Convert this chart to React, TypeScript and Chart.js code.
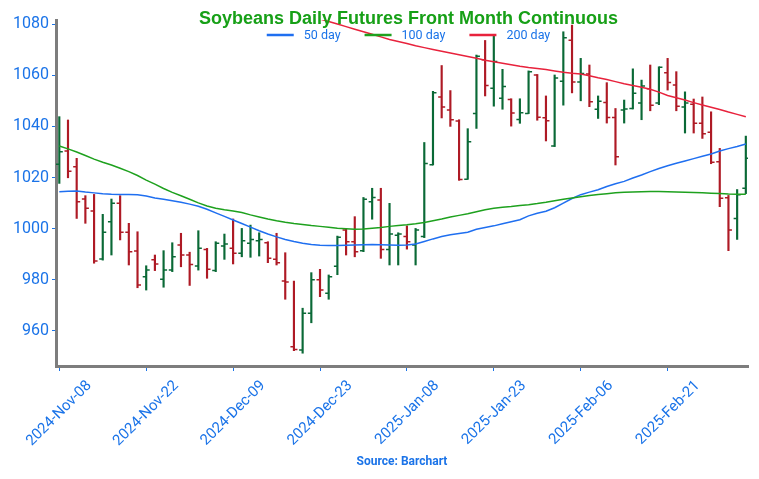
import React, { useEffect, useRef } from "react";
import { Chart, registerables } from "chart.js";

Chart.register(...registerables);

const TITLE = "Soybeans Daily Futures Front Month Continuous";
const SOURCE = "Source: Barchart";

const DATES = [
  "2024-Nov-08", "2024-Nov-11", "2024-Nov-12", "2024-Nov-13", "2024-Nov-14", "2024-Nov-15", "2024-Nov-18", "2024-Nov-19", "2024-Nov-20", "2024-Nov-21",
  "2024-Nov-22", "2024-Nov-25", "2024-Nov-26", "2024-Nov-27", "2024-Nov-29", "2024-Dec-02", "2024-Dec-03", "2024-Dec-04", "2024-Dec-05", "2024-Dec-06",
  "2024-Dec-09", "2024-Dec-10", "2024-Dec-11", "2024-Dec-12", "2024-Dec-13", "2024-Dec-16", "2024-Dec-17", "2024-Dec-18", "2024-Dec-19", "2024-Dec-20",
  "2024-Dec-23", "2024-Dec-24", "2024-Dec-26", "2024-Dec-27", "2024-Dec-30", "2024-Dec-31", "2025-Jan-02", "2025-Jan-03", "2025-Jan-06", "2025-Jan-07",
  "2025-Jan-08", "2025-Jan-09", "2025-Jan-10", "2025-Jan-13", "2025-Jan-14", "2025-Jan-15", "2025-Jan-16", "2025-Jan-17", "2025-Jan-21", "2025-Jan-22",
  "2025-Jan-23", "2025-Jan-24", "2025-Jan-27", "2025-Jan-28", "2025-Jan-29", "2025-Jan-30", "2025-Jan-31", "2025-Feb-03", "2025-Feb-04", "2025-Feb-05",
  "2025-Feb-06", "2025-Feb-07", "2025-Feb-10", "2025-Feb-11", "2025-Feb-12", "2025-Feb-13", "2025-Feb-14", "2025-Feb-18", "2025-Feb-19", "2025-Feb-20",
  "2025-Feb-21", "2025-Feb-24", "2025-Feb-25", "2025-Feb-26", "2025-Feb-27", "2025-Feb-28", "2025-Mar-03", "2025-Mar-04", "2025-Mar-05", "2025-Mar-06",
];

const OPEN = [
  1025.2, 1030.4, 1024.2, 1011.6, 1006.9, 988.1, 1002.7, 1009.9, 998.6, 991.3,
  981.2, 987.8, 980.2, 983.8, 993.6, 989.7, 985.4, 991.9, 983.6, 993.2,
  992.3, 990.4, 994.3, 995.3, 994.5, 988.0, 979.5, 953.8, 952.6, 966.9,
  980.0, 974.7, 985.3, 999.5, 994.9, 991.4, 1010.5, 1011.2, 991.9, 997.4,
  996.9, 993.6, 996.9, 1025.0, 1051.5, 1046.4, 1042.1, 1019.3, 1045.0, 1066.1,
  1054.9, 1051.0, 1050.5, 1042.7, 1045.0, 1060.1, 1043.4, 1032.3, 1057.6, 1073.7,
  1057.4, 1060.5, 1046.7, 1049.3, 1043.5, 1046.4, 1047.0, 1049.1, 1054.7, 1049.1,
  1061.0, 1056.2, 1047.6, 1048.7, 1041.2, 1037.7, 1026.2, 1012.1, 1004.0, 1015.8,
];
const HIGH = [
  1043.8, 1042.5, 1027.5, 1012.9, 1013.4, 1005.6, 1011.6, 1012.9, 1002.1, 998.8,
  985.5, 989.7, 991.4, 994.5, 998.2, 990.8, 999.2, 992.3, 994.9, 997.9,
  1003.8, 1000.1, 1001.4, 998.4, 994.9, 998.2, 990.6, 979.5, 968.9, 982.8,
  984.1, 981.9, 997.1, 1000.1, 1004.7, 1012.2, 1015.8, 1015.8, 1009.9, 998.4,
  1001.1, 1000.1, 1033.7, 1053.7, 1063.8, 1054.0, 1042.6, 1039.1, 1067.9, 1073.6,
  1075.7, 1062.3, 1050.8, 1050.8, 1061.7, 1060.3, 1051.9, 1060.1, 1077.0, 1079.6,
  1066.6, 1064.0, 1051.9, 1057.1, 1047.0, 1050.3, 1062.5, 1058.1, 1064.0, 1063.3,
  1066.6, 1061.4, 1053.5, 1050.7, 1051.5, 1045.7, 1031.4, 1013.0, 1015.3, 1036.2,
];
const LOW = [
  1017.7, 1019.9, 1004.0, 1002.1, 986.5, 987.7, 989.7, 995.6, 985.8, 976.9,
  976.0, 983.6, 977.1, 983.2, 985.1, 977.8, 983.8, 980.6, 983.2, 988.0,
  986.2, 989.0, 988.8, 989.3, 986.7, 985.8, 972.4, 952.3, 951.3, 963.2,
  973.4, 972.4, 982.0, 989.7, 989.0, 991.0, 1003.7, 988.4, 985.8, 985.8,
  992.0, 985.8, 996.5, 1024.9, 1043.3, 1040.0, 1018.9, 1019.3, 1039.2, 1051.9,
  1047.9, 1046.7, 1040.1, 1041.2, 1045.0, 1042.4, 1034.3, 1032.1, 1048.3, 1053.1,
  1050.0, 1047.7, 1043.1, 1041.3, 1024.9, 1041.3, 1046.8, 1042.6, 1046.1, 1048.5,
  1054.2, 1046.1, 1037.4, 1037.4, 1035.3, 1025.4, 1008.6, 991.4, 995.8, 1013.7,
];
const CLOSE = [
  1030.1, 1022.5, 1010.5, 1008.0, 987.4, 998.6, 1009.9, 998.6, 991.0, 978.0,
  983.8, 986.2, 983.8, 989.0, 989.7, 986.0, 992.3, 984.1, 994.3, 994.0,
  990.4, 995.3, 995.8, 995.8, 988.4, 986.7, 979.1, 952.8, 966.9, 980.0,
  976.0, 981.2, 996.6, 994.9, 991.0, 1011.5, 1012.2, 991.9, 997.9, 997.9,
  994.9, 999.5, 1025.5, 1053.2, 1047.6, 1042.6, 1019.2, 1034.0, 1067.4, 1056.0,
  1065.4, 1055.6, 1045.2, 1045.3, 1061.4, 1043.6, 1042.2, 1058.9, 1074.7, 1057.4,
  1060.7, 1049.6, 1049.8, 1043.5, 1028.1, 1046.8, 1053.0, 1055.8, 1048.3, 1063.1,
  1057.2, 1047.9, 1049.1, 1041.2, 1037.1, 1026.0, 1011.9, 999.5, 1013.3, 1027.5,
];

const MA50 = [
  1014.4, 1014.6, 1014.7, 1014.3, 1014.0, 1013.7, 1013.5, 1013.4, 1013.4, 1013.3,
  1012.8, 1012.0, 1011.5, 1010.9, 1010.3, 1009.6, 1008.8, 1007.6, 1006.2, 1004.8,
  1003.4, 1002.0, 1000.6, 999.2, 997.9, 996.8, 995.8, 995.0, 994.3, 993.8,
  993.5, 993.4, 993.4, 993.5, 993.6, 993.7, 993.8, 993.7, 993.6, 993.5,
  993.6, 994.0, 995.0, 996.0, 996.9, 997.6, 998.1, 998.6, 999.8, 1000.5,
  1001.1, 1001.9, 1002.7, 1003.5, 1005.0, 1006.0, 1006.8, 1008.2, 1010.0, 1011.8,
  1013.3, 1014.3, 1015.2, 1016.5, 1017.6, 1018.5, 1019.8, 1021.0, 1022.3, 1023.5,
  1024.6, 1025.6, 1026.5, 1027.4, 1028.3, 1029.2, 1030.4, 1031.3, 1032.1, 1033.1,
];
const MA100 = [
  1032.3, 1031.2, 1030.0, 1028.6, 1027.2, 1026.0, 1024.9, 1023.6, 1022.3, 1020.8,
  1019.0, 1017.4, 1015.7, 1014.2, 1012.9, 1011.5, 1010.1, 1008.9, 1008.0, 1007.4,
  1006.9, 1006.3, 1005.4, 1004.6, 1003.8, 1003.1, 1002.5, 1002.0, 1001.6, 1001.2,
  1000.9, 1000.6, 1000.2, 1000.0, 999.8, 999.9, 1000.2, 1000.5, 1000.9, 1001.2,
  1001.5, 1001.9, 1002.4, 1003.1, 1003.8, 1004.6, 1005.2, 1005.8, 1006.6, 1007.4,
  1008.0, 1008.4, 1008.7, 1009.1, 1009.4, 1009.8, 1010.3, 1010.9, 1011.5, 1012.0,
  1012.5, 1013.0, 1013.4, 1013.7, 1014.0, 1014.2, 1014.3, 1014.4, 1014.5, 1014.5,
  1014.4, 1014.3, 1014.2, 1014.1, 1014.0, 1013.9, 1013.8, 1013.6, 1013.5, 1013.5,
];
const MA200 = [
  null, null, null, null, null, null, null, null, null, null,
  null, null, null, null, null, null, null, null, null, null,
  null, null, null, null, null, null, null, null, null, 1083.0,
  1082.0, 1081.0, 1080.0, 1079.0, 1078.0, 1077.0, 1076.0, 1075.0, 1074.0, 1073.2,
  1072.4, 1071.5, 1070.8, 1070.1, 1069.4, 1068.7, 1068.0, 1067.3, 1066.6, 1065.9,
  1065.3, 1064.7, 1064.1, 1063.5, 1063.0, 1062.6, 1062.2, 1061.7, 1061.2, 1060.8,
  1060.5, 1059.8, 1059.0, 1058.3, 1057.5, 1056.7, 1056.0, 1055.3, 1054.5, 1053.4,
  1052.1, 1051.2, 1050.3, 1049.3, 1048.4, 1047.5, 1046.6, 1045.6, 1044.7, 1043.8,
];

const Y_TICKS = [960, 980, 1000, 1020, 1040, 1060, 1080];
const X_TICK_INDEX = [0, 10, 20, 30, 40, 50, 60, 70];
const MA_LABELS = ["50 day", "100 day", "200 day"];

const FONT = "Roboto, 'DejaVu Sans', sans-serif";
const TITLE_FONT = "'Liberation Sans', Arial, sans-serif";
const UP = "#0a6936";
const DOWN = "#ae1a25";
const AXIS_BLUE = "#1a73e8";
const MA_COLORS = ["#1f6ff0", "#1ea11e", "#e8223c"];
const TITLE_GREEN = "#17a017";
const AXIS_GREY = "#7d7d7d";

const ohlcTicks = {
  id: "ohlcTicks",
  afterDatasetDraw(chart: any, args: any) {
    if (args.index !== 0) return;
    const { ctx, chartArea, scales } = chart;
    const x = scales.x;
    const y = scales.y;
    ctx.save();
    ctx.beginPath();
    ctx.rect(chartArea.left, chartArea.top, chartArea.right - chartArea.left, chartArea.bottom - chartArea.top);
    ctx.clip();
    ctx.lineWidth = 1.5;
    for (let i = 0; i < OPEN.length; i++) {
      const px = x.getPixelForValue(i);
      const yo = y.getPixelForValue(OPEN[i]);
      const yc = y.getPixelForValue(CLOSE[i]);
      ctx.strokeStyle = CLOSE[i] >= OPEN[i] ? UP : DOWN;
      ctx.beginPath();
      ctx.moveTo(px - 3.5, yo);
      ctx.lineTo(px, yo);
      ctx.moveTo(px, yc);
      ctx.lineTo(px + 3.5, yc);
      ctx.stroke();
    }
    ctx.restore();
  },
};

const header = {
  id: "header",
  afterDraw(chart: any) {
    const { ctx, chartArea } = chart;
    const cx = (chartArea.left + chartArea.right) / 2 + 6.5;
    ctx.save();
    ctx.font = `bold 18px ${TITLE_FONT}`;
    ctx.fillStyle = TITLE_GREEN;
    ctx.textAlign = "center";
    ctx.textBaseline = "middle";
    ctx.fillText(TITLE, cx, chartArea.top - 1);

    ctx.font = `12.5px ${FONT}`;
    const lineLen = 27;
    const gap1 = 10;
    const gap2 = 24;
    const widths = MA_LABELS.map((t) => ctx.measureText(t).width);
    let total = 0;
    widths.forEach((w, i) => {
      total += lineLen + gap1 + w + (i < widths.length - 1 ? gap2 : 0);
    });
    let xx = cx - total / 2;
    const ly = chartArea.top + 15;
    ctx.textAlign = "left";
    MA_LABELS.forEach((t, i) => {
      ctx.strokeStyle = MA_COLORS[i];
      ctx.lineWidth = 2.5;
      ctx.beginPath();
      ctx.moveTo(xx, ly);
      ctx.lineTo(xx + lineLen, ly);
      ctx.stroke();
      xx += lineLen + gap1;
      ctx.fillStyle = AXIS_BLUE;
      ctx.fillText(t, xx, ly + 1);
      xx += widths[i] + gap2;
    });
    ctx.restore();
  },
};

export default function App() {
  const ref = useRef<HTMLCanvasElement | null>(null);

  useEffect(() => {
    const canvas = ref.current;
    if (!canvas) return;
    const idx = DATES.map((_, i) => i);
    const barColors = idx.map((i) => (CLOSE[i] >= OPEN[i] ? UP : DOWN));
    const maSeries = [MA50, MA100, MA200];

    const chart = new Chart(canvas, {
      type: "line",
      data: {
        datasets: [
          {
            type: "bar",
            label: "OHLC",
            data: idx.map((i) => ({ x: i, y: [LOW[i], HIGH[i]] })) as any,
            backgroundColor: barColors,
            borderWidth: 0,
            barThickness: 1.5,
            grouped: false,
            order: 10,
          } as any,
          ...maSeries.map((s, k) => ({
            type: "line",
            label: MA_LABELS[k],
            data: idx.map((i) => ({ x: i, y: s[i] })),
            borderColor: MA_COLORS[k],
            borderWidth: 1.5,
            pointRadius: 0,
            fill: false,
            spanGaps: false,
            order: 3 - k,
          })) as any,
        ],
      },
      options: {
        animation: false,
        responsive: true,
        maintainAspectRatio: false,
        layout: { padding: { top: 12, right: 3, left: 0, bottom: 0 } },
        font: { family: FONT },
        plugins: {
          legend: { display: false },
          title: { display: false },
          tooltip: { enabled: false },
        },
        scales: {
          x: {
            type: "linear",
            min: -0.38,
            max: 79.25,
            offset: false,
            afterBuildTicks: (s: any) => {
              s.ticks = X_TICK_INDEX.map((v) => ({ value: v }));
            },
            afterFit: (s: any) => {
              s.height = 107;
              s.paddingLeft = 0;
              s.paddingRight = 0;
            },
            grid: {
              display: true,
              drawOnChartArea: false,
              drawTicks: true,
              tickLength: 5,
              color: AXIS_BLUE,
              lineWidth: 1,
              offset: false,
            },
            border: { display: true, color: AXIS_GREY, width: 3 },
            ticks: {
              color: AXIS_BLUE,
              font: { family: FONT, size: 15 },
              minRotation: 45,
              maxRotation: 45,
              autoSkip: false,
              labelOffset: 30,
              padding: 6,
              callback: (v: any) => DATES[v as number],
            },
            title: {
              display: true,
              text: SOURCE,
              color: AXIS_BLUE,
              font: { family: FONT, size: 12, weight: "bold" },
              padding: { top: 0, bottom: 4 },
            },
          },
          y: {
            type: "linear",
            min: 946.3,
            max: 1081.6,
            afterBuildTicks: (s: any) => {
              s.ticks = Y_TICKS.map((v) => ({ value: v }));
            },
            afterFit: (s: any) => {
              s.width = 48;
              s.paddingTop = 0;
              s.paddingBottom = 0;
            },
            grid: {
              display: true,
              drawOnChartArea: false,
              drawTicks: true,
              tickLength: 4,
              color: AXIS_BLUE,
              lineWidth: 1,
            },
            border: { display: true, color: AXIS_GREY, width: 3 },
            ticks: {
              color: AXIS_BLUE,
              font: { family: FONT, size: 16 },
              padding: 3,
              callback: (v: any) => String(v),
            },
          },
        },
      } as any,
      plugins: [ohlcTicks, header],
    });
    return () => chart.destroy();
  }, []);

  return (
    <div style={{ width: 743, height: 465, position: "relative" }}>
      <canvas ref={ref} />
    </div>
  );
}
